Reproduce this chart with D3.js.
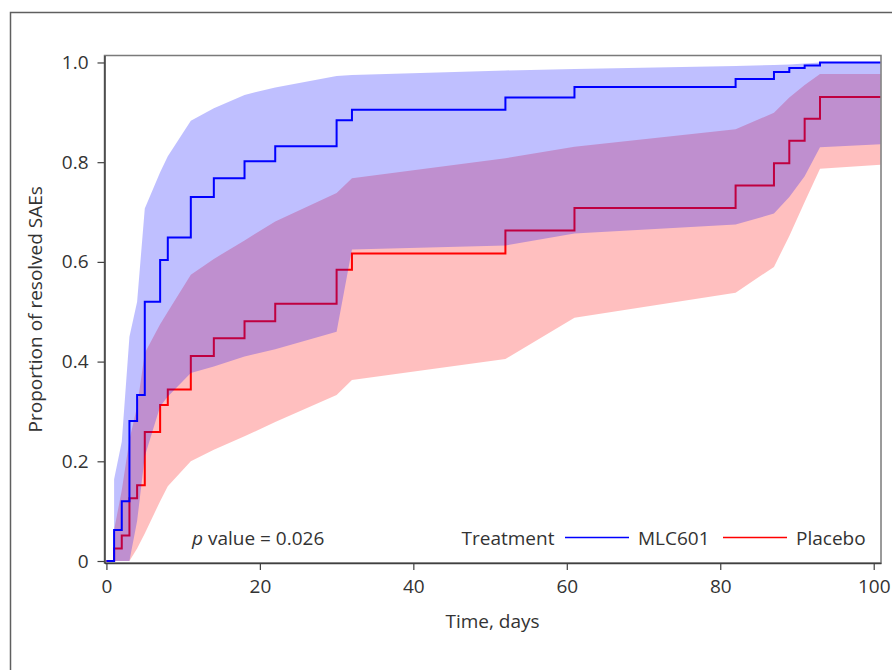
<!DOCTYPE html>
<html>
<head>
<meta charset="utf-8">
<script src="https://cdn.jsdelivr.net/npm/d3@7"></script>
<style>
  body { margin: 0; background: #fff; }
  svg text { font-family: "Open Sans", "Noto Sans", sans-serif; fill: #333; }
</style>
</head>
<body>
<div id="chart-area"></div>
<script>
// step times (days) shared by both arms, last one is where the curves stop
const stepTimes = [0, 1, 2, 3, 4, 5, 7, 8, 11, 14, 18, 22, 30, 32, 52, 61, 82, 87, 89, 91, 93, 100.9];
const mlc601 = [0, 0.062, 0.12, 0.281, 0.333, 0.52, 0.604, 0.649, 0.73, 0.768, 0.802, 0.832, 0.884, 0.905, 0.93, 0.951, 0.967, 0.981, 0.989, 0.994, 1.0, 1.0];
const placebo = [0, 0.025, 0.051, 0.126, 0.152, 0.259, 0.313, 0.344, 0.411, 0.447, 0.481, 0.516, 0.584, 0.617, 0.663, 0.708, 0.753, 0.798, 0.843, 0.887, 0.931, 0.931];

// confidence bands
const bandTimes = [1, 2, 3, 4, 5, 7, 8, 11, 14, 18, 22, 30, 32, 52, 61, 82, 87, 89, 91, 93, 100.9];
const mlc601Upper = [0.164, 0.239, 0.45, 0.52, 0.707, 0.78, 0.812, 0.883, 0.908, 0.935, 0.95, 0.973, 0.975, 0.984, 0.987, 0.993, 0.995, 0.996, 0.998, 1.0, 1.0];
const mlc601Lower = [0, 0, 0, 0.08, 0.21, 0.31, 0.33, 0.377, 0.39, 0.41, 0.425, 0.46, 0.625, 0.633, 0.657, 0.675, 0.697, 0.73, 0.772, 0.83, 0.836];
const placeboUpper = [0.062, 0.142, 0.243, 0.31, 0.417, 0.475, 0.5, 0.574, 0.606, 0.643, 0.681, 0.738, 0.768, 0.808, 0.831, 0.866, 0.899, 0.93, 0.955, 0.977, 0.977];
const placeboLower = [0, 0, 0, 0.025, 0.055, 0.12, 0.15, 0.2, 0.223, 0.25, 0.279, 0.333, 0.363, 0.405, 0.488, 0.538, 0.59, 0.652, 0.72, 0.787, 0.795];

const xTicks = [0, 20, 40, 60, 80, 100];
const yTicks = [0, 0.2, 0.4, 0.6, 0.8, 1.0];
const yTickLabels = ["0", "0.2", "0.4", "0.6", "0.8", "1.0"];
const legendItems = [
  { name: "MLC601", color: "#0000ff" },
  { name: "Placebo", color: "#ff0000" }
];

const drawChart = () => {
  const WIDTH = 892;
  const HEIGHT = 670;
  const LEFT = 104.5, TOP = 55.5, RIGHT = 881, BOTTOM = 563;
  const FONT = "19px";

  const svg = d3.select("#chart-area")
    .append("svg")
    .attr("width", WIDTH)
    .attr("height", HEIGHT);

  // outer frame of the figure
  svg.append("rect")
    .attr("x", 10.5).attr("y", 12.5)
    .attr("width", 1000).attr("height", 1000)
    .attr("fill", "none")
    .attr("stroke", "#5f5f5f")
    .attr("stroke-width", 1.5);

  const x = d3.scaleLinear().domain([-0.25, 100.95]).range([LEFT, RIGHT]);
  const y = d3.scaleLinear().domain([-0.004, 1.014]).range([BOTTOM, TOP]);

  const band = (upper, lower) => d3.area()
    .x((t) => x(t))
    .y0((t, i) => y(lower[i]))
    .y1((t, i) => y(upper[i]))(bandTimes);

  const step = d3.line()
    .x((d) => x(d[0]))
    .y((d) => y(d[1]))
    .curve(d3.curveStepAfter);

  // placebo band, placebo line, then MLC601 band on top, then MLC601 line
  svg.append("path")
    .attr("d", band(placeboUpper, placeboLower))
    .attr("fill", "#ff0000")
    .attr("fill-opacity", 0.25);

  svg.append("path")
    .attr("d", step(stepTimes.map((t, i) => [t, placebo[i]])))
    .attr("fill", "none")
    .attr("stroke", "#ff0000")
    .attr("stroke-width", 2);

  svg.append("path")
    .attr("d", band(mlc601Upper, mlc601Lower))
    .attr("fill", "#0000ff")
    .attr("fill-opacity", 0.25);

  svg.append("path")
    .attr("d", step(stepTimes.map((t, i) => [t, mlc601[i]])))
    .attr("fill", "none")
    .attr("stroke", "#0000ff")
    .attr("stroke-width", 2);

  // plot frame
  svg.append("rect")
    .attr("x", LEFT).attr("y", TOP)
    .attr("width", RIGHT - LEFT).attr("height", BOTTOM - TOP)
    .attr("fill", "none")
    .attr("stroke", "#7a7a7a")
    .attr("stroke-width", 1.5);

  const xAxis = svg.append("g")
    .attr("transform", `translate(0,${BOTTOM})`)
    .call(d3.axisBottom(x).tickValues(xTicks).tickSize(7).tickSizeOuter(0).tickPadding(10));

  const yAxis = svg.append("g")
    .attr("transform", `translate(${LEFT},0)`)
    .call(d3.axisLeft(y).tickValues(yTicks).tickSize(7).tickSizeOuter(0).tickPadding(9)
      .tickFormat((d, i) => yTickLabels[i]));

  [xAxis, yAxis].forEach((g) => {
    g.select(".domain").attr("stroke", "#404040").attr("stroke-width", 1.5);
    g.selectAll(".tick line").attr("stroke", "#404040").attr("stroke-width", 1.2);
    g.selectAll(".tick text").style("font-size", FONT).attr("fill", "#333");
  });

  svg.append("text")
    .attr("x", 492.5).attr("y", 628)
    .attr("text-anchor", "middle")
    .style("font-size", FONT)
    .text("Time, days");

  svg.append("text")
    .attr("transform", `translate(42,${(TOP + BOTTOM) / 2}) rotate(-90)`)
    .attr("text-anchor", "middle")
    .style("font-size", FONT)
    .text("Proportion of resolved SAEs");

  // p value
  const pv = svg.append("text")
    .attr("x", 192).attr("y", 545)
    .style("font-size", FONT);
  pv.append("tspan").style("font-style", "italic").text("p");
  pv.append("tspan").text(" value = 0.026");

  // legend
  svg.append("text")
    .attr("x", 461.5).attr("y", 545)
    .style("font-size", FONT)
    .text("Treatment");

  const legendX = [565, 723];
  legendItems.forEach((item, i) => {
    svg.append("line")
      .attr("x1", legendX[i]).attr("x2", legendX[i] + 64)
      .attr("y1", 537.5).attr("y2", 537.5)
      .attr("stroke", item.color)
      .attr("stroke-width", 1.5);
    svg.append("text")
      .attr("x", legendX[i] + 73).attr("y", 545)
      .style("font-size", FONT)
      .text(item.name);
  });
};

window.onload = drawChart;
</script>
</body>
</html>
